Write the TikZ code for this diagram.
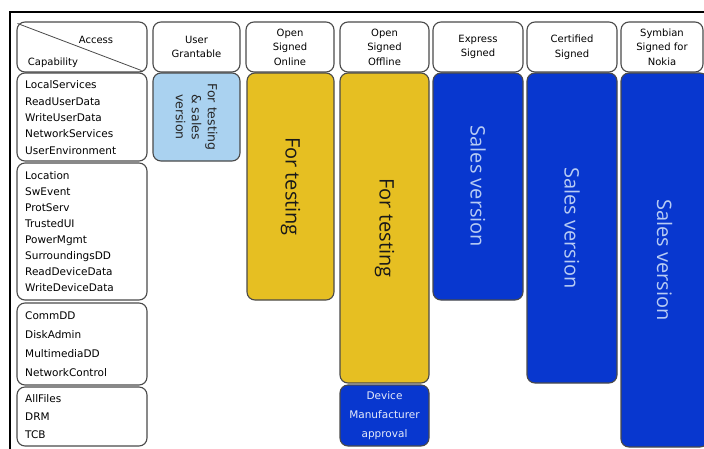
\documentclass[tikz,border=0pt]{standalone}
\usepackage{fontspec}
\setmainfont{DejaVu Sans}
\newfontfamily\bigfont{Open Sans}
\definecolor{ygold}{HTML}{E6BF22}
\definecolor{nblue}{HTML}{0837CF}
\definecolor{lblue}{HTML}{AAD2F0}
\definecolor{vtext}{HTML}{B8CCF4}
\definecolor{edge}{HTML}{4A4A4A}
\begin{document}
\begin{tikzpicture}[x=1pt,y=-1pt,
  box/.style={draw=edge, line width=1.1pt, rounded corners=8pt, inner sep=0pt},
  hdr/.style={box, fill=white, font=\fontsize{10}{14.5}\selectfont, align=center},
  caprow/.style={box, fill=white},
  captext/.style={anchor=west, align=left, inner sep=0pt},
  vbox/.style={box, rotate=-90, align=center},
  testbox/.style={vbox, fill=ygold, text=black!90, font=\bigfont\fontsize{20}{24}\selectfont},
  salesbox/.style={vbox, fill=nblue, text=vtext, font=\bigfont\fontsize{20}{24}\selectfont}]
\useasboundingbox (0,0) rectangle (704,448);
\clip (0,0) rectangle (704,448);
% outer frame
\draw[line width=2pt] (10,452) -- (10,12) -- (710,12);
% header row
\node[hdr, minimum width=130pt, minimum height=50pt] (h0) at (82,47) {};
\draw[edge, line width=0.8pt] ([shift={(1,2)}]h0.north west) -- ([shift={(-6,-2)}]h0.south east);
\node[font=\fontsize{10}{12}\selectfont] (acc) at (96,40) {Access};
\node[font=\fontsize{10}{12}\selectfont] (capa) at (53,63) {Capability};
\node[hdr, minimum width=87pt, minimum height=50pt] (h1) at (196.5,47) {User\\Grantable};
\node[hdr, minimum width=88pt, minimum height=50pt] (h2) at (290,47) {Open\\Signed\\Online};
\node[hdr, minimum width=89pt, minimum height=50pt] (h3) at (384.5,47) {Open\\Signed\\Offline};
\node[hdr, minimum width=90pt, minimum height=50pt] (h4) at (478,47) {Express\\Signed};
\node[hdr, minimum width=90pt, minimum height=50pt] (h5) at (572,47) {Certified\\Signed};
\node[hdr, minimum width=82pt, minimum height=50pt] (h6) at (662,47) {Symbian\\Signed for\\Nokia};
% capability rows
\node[caprow, minimum width=130pt, minimum height=88pt] (r1) at (82,117) {};
\node[caprow, minimum width=130pt, minimum height=137pt] (r2) at (82,231.5) {};
\node[caprow, minimum width=130pt, minimum height=82pt] (r3) at (82,344) {};
\node[caprow, minimum width=130pt, minimum height=59pt] (r4) at (82,416.5) {};
\node[captext, font=\fontsize{10.5}{16.3}\selectfont] (t1) at (25,117.5)
  {LocalServices\\ReadUserData\\WriteUserData\\NetworkServices\\UserEnvironment};
\node[captext, font=\fontsize{10.5}{16}\selectfont] (t2) at (25,232)
  {Location\\SwEvent\\ProtServ\\TrustedUI\\PowerMgmt\\SurroundingsDD\\ReadDeviceData\\WriteDeviceData};
\node[captext, font=\fontsize{10.5}{19}\selectfont] (t3) at (25,344.5)
  {CommDD\\DiskAdmin\\MultimediaDD\\NetworkControl};
\node[captext, font=\fontsize{10.5}{18}\selectfont] (t4) at (25,417)
  {AllFiles\\DRM\\TCB};
% access boxes (rotated: width = vertical extent)
\node[vbox, fill=lblue, text=black!85, font=\fontsize{12.5}{16}\selectfont,
      minimum width=88pt, minimum height=87pt] (ug) at (196.5,117) {For testing\\\& sales\\version};
\node[testbox, minimum width=227pt, minimum height=87pt] (oson) at (290.5,186.5) {For testing};
\node[testbox, minimum width=310pt, minimum height=89pt] (osoff) at (384.5,228) {For testing};
\node[box, fill=nblue, text=white!90!nblue, align=center, font=\fontsize{10.5}{19}\selectfont,
      minimum width=89pt, minimum height=61pt] (dm) at (384.5,415.5) {Device\\Manufacturer\\approval};
\node[salesbox, minimum width=227pt, minimum height=90pt] (es) at (478,186.5) {Sales version};
\node[salesbox, minimum width=310pt, minimum height=90pt] (cs) at (572,228) {Sales version};
\node[salesbox, minimum width=374pt, minimum height=87pt] (ss) at (664.5,260) {Sales version};
\end{tikzpicture}
\end{document}
